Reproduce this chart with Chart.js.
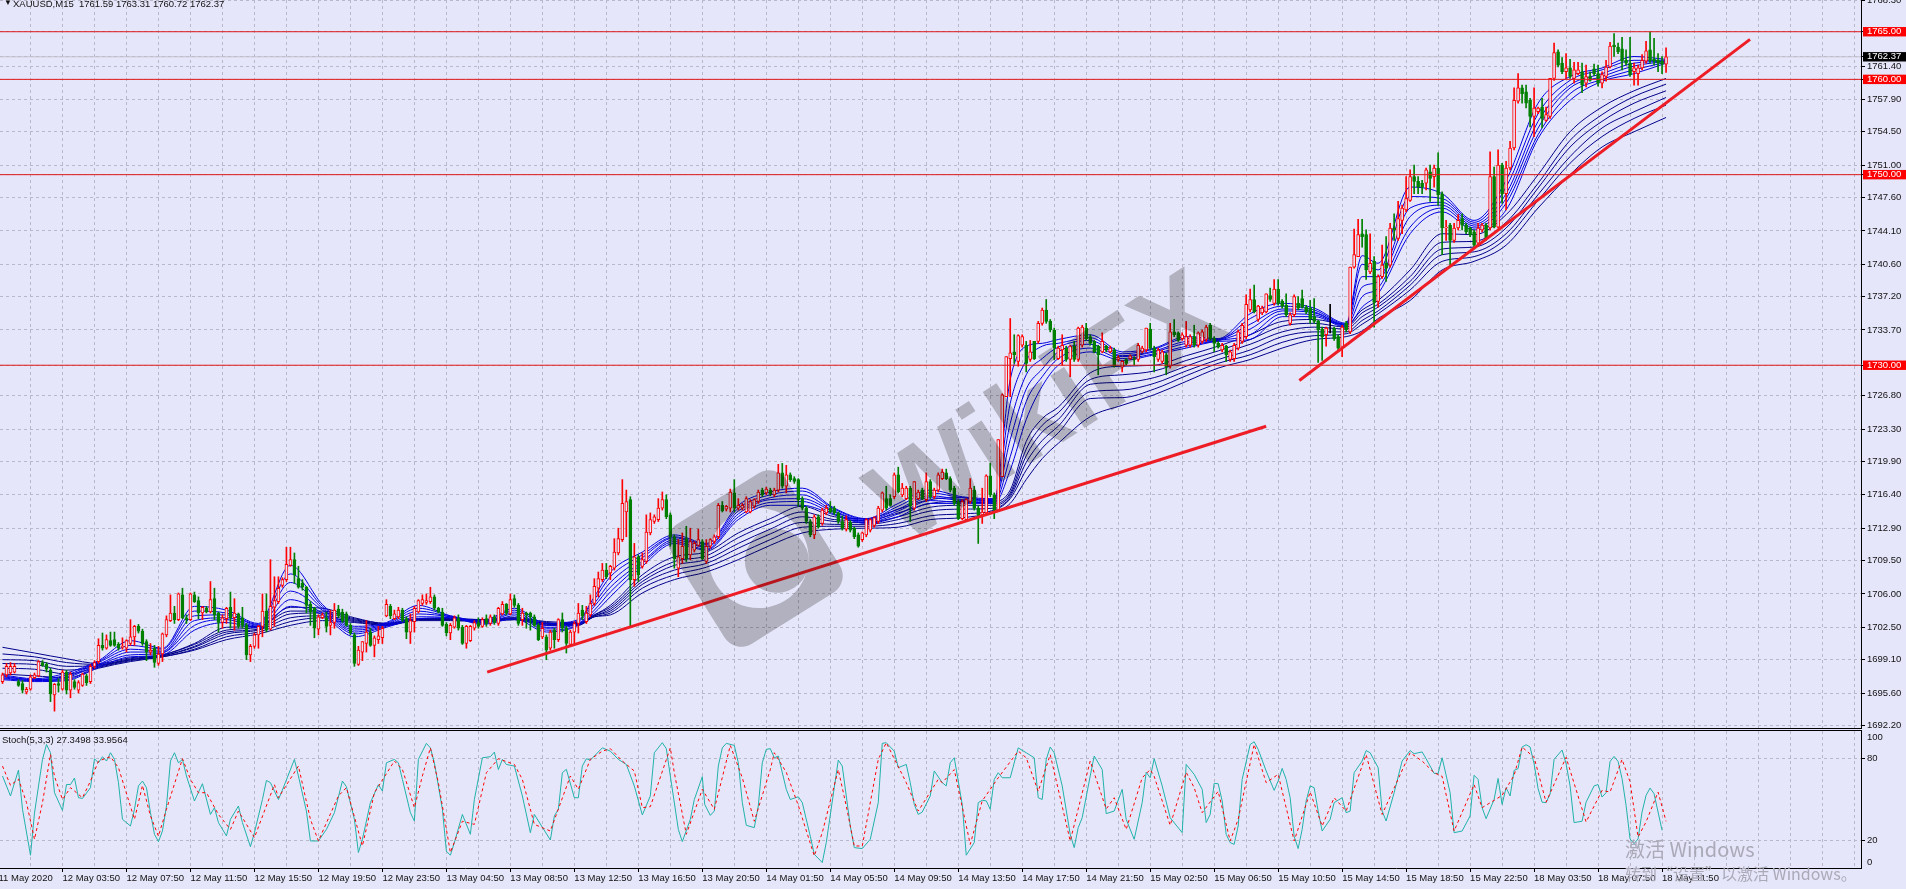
<!DOCTYPE html>
<html>
<head>
<meta charset="utf-8">
<title>XAUUSD,M15</title>
<script src="https://cdn.jsdelivr.net/npm/chart.js@4"></script>
<style>
  html, body { margin: 0; padding: 0; background: #e6e6fa; overflow: hidden; }
  #wrap { position: relative; width: 1906px; height: 889px; overflow: hidden; font-family: 'Liberation Sans', sans-serif; }
  canvas { position: absolute; left: 0; }
  #main { top: 0; }
  #stoch { top: 731px; }
  .sep { position: absolute; left: 0; width: 1862px; height: 1px; background: #000; }
  .txt { position: absolute; color: #111; font-size: 9.5px; white-space: pre; }
  #mark { position: absolute; left: 0; top: 0; mix-blend-mode: multiply; }
  .win { position: absolute; color: #a9a9b8; font-family: 'Noto Sans CJK SC', sans-serif; white-space: pre; }
</style>
</head>
<body>
<div id="wrap">
  <canvas id="main" width="1906" height="728"></canvas>
  <div class="sep" style="top:728px"></div>
  <div class="sep" style="top:730px"></div>
  <canvas id="stoch" width="1906" height="158"></canvas>
  <svg id="mark" width="1906" height="728">
    <g transform="rotate(-32 755 558)">
      <rect x="687" y="488" width="136" height="141" rx="20" fill="#c4c4c4"></rect>
      <circle cx="758" cy="560" r="50" fill="#fff"></circle>
      <circle cx="772" cy="572" r="32" fill="#c4c4c4"></circle>
    </g>
    <text x="1048" y="445" text-anchor="middle" transform="rotate(-33 1048 410)" fill="#c4c4c4" font-family="Liberation Sans" font-weight="bold" font-size="118">WikiFX</text>
  </svg>
  <div class="txt" style="left:4px;top:-2px;font-size:8px">▼</div>
  <div class="txt" style="left:13px;top:-2px">XAUUSD,M15  1761.59 1763.31 1760.72 1762.37</div>
  <div class="txt" style="left:2px;top:734px">Stoch(5,3,3) 27.3498 33.9564</div>
  <div class="win" style="left:1625px;top:836px;font-size:20px;line-height:26px">激活 Windows</div>
  <div class="win" style="left:1625px;top:862px;font-size:16px;line-height:22px">转到“设置”以激活 Windows。</div>
</div>
<script>
// candles, M15 (one entry per bar)
const opens = [
1696.8,1697.5,1697.7,1697.8,1696.8,1696.6,1695.7,1696.0,1697.2,1697.4,
1698.8,1698.6,1698.0,1695.4,1696.6,1696.0,1697.8,1695.9,1696.8,1695.9,
1696.4,1697.4,1696.8,1698.4,1698.9,1700.6,1700.3,1701.1,1701.2,1700.7,
1700.4,1700.3,1700.8,1701.5,1702.6,1702.1,1701.0,1699.9,1700.3,1698.7,
1699.7,1701.7,1703.2,1704.0,1703.3,1705.9,1703.5,1703.3,1705.9,1705.3,
1704.0,1704.5,1704.1,1705.5,1704.0,1703.0,1703.4,1704.6,1703.5,1703.9,
1703.5,1702.7,1699.6,1700.5,1701.7,1702.6,1704.2,1702.3,1704.6,1705.2,
1706.9,1707.5,1709.0,1709.6,1707.6,1707.1,1706.7,1704.9,1704.5,1702.3,
1703.5,1703.5,1702.7,1703.0,1704.4,1704.1,1703.9,1702.7,1701.7,1698.6,
1699.9,1700.8,1702.0,1700.6,1701.2,1701.4,1703.7,1704.7,1703.4,1703.6,
1704.3,1703.4,1702.0,1703.1,1704.1,1705.0,1705.1,1705.2,1705.7,1704.5,
1704.1,1702.8,1701.9,1702.5,1703.4,1702.5,1700.8,1701.1,1702.4,1703.0,
1702.6,1703.4,1702.9,1703.6,1702.9,1703.9,1704.9,1703.9,1705.5,1704.8,
1703.3,1704.0,1704.0,1703.6,1702.7,1701.5,1701.5,1700.3,1702.2,1701.2,
1703.3,1702.4,1700.7,1702.0,1702.9,1704.3,1703.1,1703.8,1705.0,1706.6,
1707.5,1708.5,1708.2,1708.7,1710.3,1711.7,1714.6,1715.9,1707.5,1709.9,
1708.9,1709.4,1712.4,1713.6,1713.8,1715.0,1715.9,1714.3,1712.0,1708.7,
1709.7,1711.8,1710.1,1710.6,1711.1,1711.5,1709.4,1711.0,1711.5,1712.0,
1715.3,1714.9,1715.0,1716.6,1715.0,1715.0,1714.6,1714.6,1715.2,1715.7,
1716.9,1716.6,1716.9,1716.4,1716.9,1718.7,1717.3,1718.5,1718.1,1718.0,
1716.0,1715.0,1713.6,1712.2,1714.1,1713.4,1714.5,1715.0,1715.0,1714.5,
1713.6,1712.8,1713.5,1712.9,1712.2,1711.7,1712.2,1712.7,1713.2,1713.6,
1714.8,1716.0,1716.0,1716.2,1718.5,1716.4,1716.0,1717.1,1715.0,1716.0,
1716.9,1715.9,1717.8,1716.2,1716.9,1718.1,1718.7,1718.1,1717.1,1715.7,
1713.9,1713.8,1715.7,1716.9,1715.0,1714.3,1714.5,1718.4,1716.4,1714.8,
1718.3,1726.7,1730.7,1731.4,1730.4,1732.1,1732.1,1730.6,1732.5,1732.5,
1734.4,1735.8,1734.6,1733.7,1730.7,1731.6,1731.8,1730.6,1732.0,1730.6,
1732.1,1733.9,1733.0,1732.5,1732.0,1731.4,1732.0,1731.4,1731.6,1730.6,
1729.8,1730.6,1730.7,1730.7,1730.6,1731.4,1731.6,1733.8,1731.8,1730.6,
1730.4,1731.1,1729.9,1733.5,1733.4,1732.8,1732.1,1732.1,1733.0,1732.1,
1732.5,1732.7,1734.2,1732.8,1732.3,1731.6,1732.0,1730.6,1730.7,1731.8,
1732.5,1733.0,1735.8,1736.9,1734.8,1735.5,1735.6,1737.3,1736.5,1738.0,
1736.7,1736.3,1734.4,1735.3,1736.5,1737.0,1736.1,1736.0,1735.1,1734.6,
1733.8,1733.2,1734.4,1733.9,1733.0,1731.9,1734.4,1733.5,1740.3,1741.4,
1743.8,1743.7,1739.8,1740.9,1736.7,1739.3,1740.7,1740.5,1744.4,1743.3,
1745.2,1746.3,1747.3,1749.8,1749.3,1749.1,1749.1,1750.3,1749.8,1750.7,
1748.0,1744.4,1744.7,1743.1,1744.4,1745.4,1744.7,1744.4,1744.0,1742.8,
1744.2,1744.7,1744.4,1749.8,1744.5,1751.0,1748.0,1750.7,1752.8,1757.7,
1759.1,1758.7,1757.8,1756.1,1756.6,1757.1,1755.7,1756.1,1760.1,1762.9,
1761.7,1760.8,1761.2,1760.1,1760.6,1760.8,1759.6,1760.3,1761.1,1760.6,
1759.6,1760.3,1761.3,1763.6,1763.4,1763.2,1762.0,1761.7,1760.8,1760.6,
1761.2,1761.9,1763.1,1762.1,1762.0,1761.9,1761.59
];
const closes = [
1697.5,1698.4,1698.4,1698.4,1696.4,1695.9,1696.0,1697.3,1697.5,1698.9,
1698.5,1698.1,1695.5,1696.5,1696.4,1697.8,1695.9,1697.6,1696.2,1696.7,
1697.6,1696.7,1698.4,1698.8,1700.6,1700.3,1701.2,1700.6,1700.6,1700.3,
1700.5,1701.1,1701.5,1702.6,1702.1,1700.8,1699.9,1700.1,1698.8,1699.7,
1701.8,1703.3,1704.0,1703.3,1706.0,1703.5,1703.3,1706.0,1705.2,1704.0,
1704.6,1704.1,1705.4,1703.8,1703.0,1703.5,1704.5,1703.5,1704.0,1702.6,
1702.7,1699.6,1700.5,1701.7,1702.6,1704.2,1702.2,1704.7,1705.3,1706.6,
1707.5,1709.1,1709.6,1708.0,1706.7,1706.7,1704.8,1704.1,1702.4,1703.6,
1703.8,1702.6,1703.0,1704.3,1703.7,1703.2,1702.7,1701.9,1698.7,1700.1,
1701.0,1702.0,1700.6,1701.4,1701.6,1702.4,1704.9,1703.7,1703.9,1704.3,
1703.3,1702.0,1703.2,1704.5,1705.3,1705.4,1705.3,1705.7,1704.5,1704.1,
1702.7,1701.9,1702.7,1703.5,1702.4,1700.8,1702.6,1702.6,1703.0,1702.6,
1703.3,1702.9,1703.6,1703.0,1704.5,1704.9,1704.0,1705.4,1704.8,1702.9,
1704.0,1703.8,1703.6,1702.7,1701.2,1702.4,1700.1,1702.0,1701.2,1703.3,
1702.4,1700.8,1702.0,1702.9,1704.0,1703.7,1704.0,1705.0,1706.8,1707.6,
1708.5,1707.8,1708.9,1710.4,1711.8,1715.5,1715.7,1707.5,1709.9,1708.0,
1709.6,1712.5,1713.8,1714.1,1715.0,1715.9,1714.1,1712.0,1709.7,1709.9,
1711.0,1709.7,1711.5,1711.3,1711.7,1709.7,1711.0,1711.7,1712.0,1715.3,
1714.7,1715.2,1716.7,1715.0,1715.3,1715.3,1716.0,1715.7,1715.9,1716.7,
1716.4,1717.0,1716.5,1716.9,1718.7,1717.3,1718.5,1718.0,1717.8,1715.9,
1715.0,1713.6,1712.2,1714.1,1713.0,1714.8,1715.0,1714.6,1714.5,1713.6,
1712.9,1713.8,1712.7,1712.0,1711.0,1712.4,1713.8,1713.8,1714.0,1715.0,
1716.6,1715.0,1715.3,1718.5,1716.7,1717.1,1717.1,1715.2,1717.8,1716.7,
1716.0,1717.8,1716.2,1716.9,1718.5,1718.8,1718.1,1716.9,1715.5,1713.9,
1715.7,1715.9,1717.1,1715.0,1714.3,1714.6,1718.4,1716.4,1714.8,1722.2,
1726.9,1730.9,1731.3,1731.1,1733.1,1733.0,1730.2,1731.4,1730.7,1734.4,
1735.8,1734.6,1733.7,1731.8,1731.8,1732.1,1730.6,1732.0,1730.6,1733.9,
1734.0,1732.8,1732.3,1731.4,1731.1,1732.5,1731.6,1731.8,1729.9,1730.8,
1730.4,1730.2,1731.0,1730.6,1732.1,1731.8,1733.9,1731.8,1730.9,1731.6,
1731.4,1729.8,1733.5,1733.2,1732.6,1733.2,1733.0,1733.0,1732.1,1733.4,
1733.5,1734.0,1732.8,1732.3,1731.9,1732.1,1731.1,1731.4,1732.1,1733.5,
1734.2,1736.4,1736.9,1735.6,1736.2,1736.0,1737.5,1736.9,1738.0,1736.5,
1736.2,1735.3,1735.3,1737.2,1736.0,1736.1,1735.6,1734.9,1734.6,1733.7,
1733.0,1733.9,1734.4,1732.8,1731.8,1734.0,1733.7,1740.3,1741.6,1743.7,
1743.5,1740.0,1740.7,1736.6,1739.3,1740.5,1740.2,1744.4,1744.2,1745.4,
1746.5,1747.5,1749.8,1749.3,1748.7,1748.7,1750.5,1749.6,1750.7,1747.9,
1744.4,1744.5,1743.1,1744.4,1745.2,1744.7,1744.0,1743.7,1742.6,1744.4,
1744.7,1743.3,1749.8,1744.5,1751.0,1748.0,1750.7,1752.8,1757.8,1759.1,
1758.5,1757.5,1756.1,1757.0,1757.0,1755.9,1756.3,1760.1,1762.8,1761.5,
1760.8,1761.2,1760.3,1761.0,1761.0,1759.4,1760.3,1759.9,1760.6,1759.6,
1760.5,1761.3,1763.5,1763.4,1762.9,1761.9,1761.7,1760.5,1761.2,1761.2,
1762.0,1763.0,1762.0,1761.9,1761.7,1761.6,1762.37
];
const highs = [
1697.7,1698.7,1698.8,1698.7,1697.0,1696.9,1696.2,1697.5,1697.7,1699.0,
1699.0,1698.8,1698.2,1696.6,1697.1,1698.0,1698.0,1697.8,1697.0,1696.9,
1697.7,1697.6,1698.6,1699.0,1701.3,1701.9,1701.7,1702.0,1702.0,1700.9,
1701.4,1701.2,1703.3,1702.7,1702.8,1702.3,1701.2,1700.8,1700.6,1700.5,
1701.9,1703.7,1705.9,1704.7,1706.1,1706.6,1703.8,1706.1,1706.2,1705.7,
1704.7,1704.7,1707.3,1706.6,1704.1,1703.8,1704.6,1706.2,1705.5,1704.0,
1704.6,1702.9,1700.7,1701.9,1702.7,1706.0,1706.0,1709.6,1707.8,1707.8,
1707.7,1710.9,1710.9,1710.3,1708.9,1707.5,1706.8,1705.2,1704.6,1703.8,
1704.0,1704.1,1704.3,1705.0,1704.8,1704.4,1704.1,1702.9,1701.9,1700.5,
1701.0,1703.2,1702.4,1701.6,1702.6,1702.6,1705.4,1704.9,1704.3,1704.6,
1704.5,1703.6,1703.9,1704.7,1705.4,1705.9,1706.0,1706.7,1705.9,1704.6,
1704.5,1703.0,1702.9,1703.7,1703.8,1702.7,1702.7,1702.7,1703.2,1703.5,
1703.5,1703.8,1703.8,1703.8,1704.6,1705.2,1705.0,1706.0,1705.9,1705.0,
1704.5,1704.1,1704.1,1703.8,1702.9,1703.0,1701.7,1702.2,1702.4,1703.4,
1704.0,1702.6,1702.2,1703.1,1705.0,1704.8,1704.7,1705.9,1707.6,1708.3,
1709.2,1709.2,1709.0,1711.8,1712.9,1718.0,1716.9,1716.2,1711.3,1710.1,
1710.3,1714.3,1714.5,1714.3,1716.0,1716.7,1716.4,1714.5,1712.2,1711.7,
1712.4,1713.1,1712.9,1711.5,1712.8,1711.7,1711.7,1711.8,1712.2,1715.5,
1715.7,1715.3,1717.0,1718.0,1716.0,1715.5,1716.2,1715.9,1716.0,1716.9,
1717.1,1717.2,1717.1,1717.1,1719.6,1719.7,1719.5,1718.7,1718.3,1718.1,
1716.2,1715.2,1713.8,1714.3,1714.3,1715.0,1715.3,1715.7,1715.2,1714.6,
1714.2,1714.2,1713.7,1713.0,1712.4,1712.5,1713.9,1713.9,1714.1,1715.2,
1716.7,1717.3,1716.4,1718.7,1719.3,1717.6,1717.3,1717.3,1717.8,1716.9,
1717.1,1718.7,1718.0,1717.1,1718.7,1719.1,1719.1,1718.3,1717.3,1715.9,
1715.9,1716.0,1718.1,1717.3,1715.2,1717.1,1718.5,1719.7,1716.6,1722.2,
1727.0,1730.9,1734.9,1733.2,1733.2,1733.2,1732.5,1732.6,1732.5,1734.6,
1736.0,1736.9,1734.8,1733.9,1732.0,1733.2,1732.0,1732.1,1732.5,1734.0,
1734.2,1734.4,1733.2,1732.6,1732.1,1733.4,1732.1,1732.0,1731.8,1731.0,
1730.5,1730.7,1731.1,1730.9,1732.3,1732.0,1733.9,1734.4,1732.0,1731.8,
1731.6,1731.3,1734.4,1734.8,1733.5,1733.4,1734.6,1733.2,1734.2,1733.5,
1733.7,1734.2,1734.4,1733.0,1732.5,1732.3,1732.1,1731.6,1732.3,1733.7,
1734.4,1737.4,1738.0,1738.4,1736.3,1736.2,1737.5,1738.1,1739.0,1739.0,
1736.9,1737.5,1735.5,1737.4,1737.2,1737.9,1736.3,1736.8,1737.0,1734.7,
1734.0,1734.0,1736.4,1734.0,1733.2,1734.2,1734.6,1740.3,1744.3,1745.3,
1745.3,1744.2,1743.8,1741.4,1739.5,1742.6,1743.5,1744.9,1745.9,1747.2,
1746.8,1749.8,1750.5,1751.0,1749.8,1749.4,1750.7,1751.0,1751.0,1752.3,
1748.2,1745.2,1744.9,1744.9,1745.8,1745.9,1744.9,1744.5,1744.2,1744.9,
1744.9,1744.9,1752.4,1750.8,1752.6,1751.2,1751.4,1753.5,1759.1,1760.6,
1759.4,1759.4,1758.0,1759.1,1757.1,1758.0,1757.1,1760.1,1763.8,1763.1,
1762.3,1762.7,1762.1,1761.8,1761.8,1761.7,1761.5,1760.8,1761.6,1761.5,
1760.8,1762.0,1763.9,1764.8,1763.8,1764.4,1763.1,1764.4,1761.7,1761.5,
1762.6,1764.0,1765.0,1764.3,1762.7,1762.4,1763.31
];
const lows = [
1696.6,1697.3,1697.5,1697.7,1696.3,1695.6,1695.5,1695.9,1697.1,1697.3,
1698.4,1697.8,1694.7,1693.7,1695.7,1695.9,1695.5,1695.1,1696.0,1695.6,
1696.3,1696.4,1696.6,1698.2,1698.7,1700.1,1700.2,1700.5,1700.5,1700.1,
1700.2,1699.9,1700.6,1700.6,1701.9,1700.6,1699.0,1699.6,1698.3,1698.5,
1698.9,1701.5,1703.1,1702.9,1703.2,1703.4,1702.9,1703.2,1705.1,1703.4,
1703.3,1704.0,1704.0,1703.3,1702.0,1702.4,1702.9,1702.4,1702.2,1702.4,
1702.4,1699.1,1698.9,1700.3,1700.3,1701.5,1702.0,1702.2,1702.6,1705.0,
1706.7,1707.3,1708.9,1707.1,1706.6,1706.4,1704.0,1702.7,1701.4,1701.7,
1703.4,1702.0,1701.7,1702.4,1703.5,1703.0,1702.6,1701.7,1698.4,1698.5,
1699.0,1699.9,1700.5,1699.4,1700.8,1700.8,1703.6,1703.4,1703.3,1703.4,
1703.1,1701.3,1700.8,1702.0,1704.0,1704.8,1704.9,1705.0,1704.3,1704.0,
1702.6,1701.6,1701.2,1702.4,1702.2,1700.7,1700.3,1701.0,1702.2,1702.4,
1702.5,1702.6,1702.7,1702.8,1702.7,1703.8,1703.8,1703.8,1704.6,1702.7,
1702.7,1702.4,1702.2,1702.6,1701.1,1701.3,1699.1,1700.1,1700.3,1701.0,
1702.0,1699.8,1700.6,1700.8,1701.9,1703.3,1702.9,1703.6,1704.8,1705.7,
1707.3,1707.6,1707.5,1708.5,1710.1,1711.5,1712.0,1702.6,1706.8,1707.3,
1708.7,1709.2,1712.2,1713.4,1713.6,1714.8,1713.9,1711.0,1708.7,1707.8,
1709.2,1709.4,1709.6,1710.4,1711.0,1709.6,1709.2,1710.8,1711.3,1711.8,
1714.6,1714.7,1714.6,1714.6,1714.8,1714.8,1714.5,1714.5,1715.0,1715.5,
1716.2,1716.4,1716.3,1716.2,1716.7,1717.1,1716.6,1717.8,1717.6,1715.2,
1714.8,1713.4,1712.0,1711.8,1712.9,1713.2,1714.3,1714.5,1714.3,1713.4,
1712.7,1712.6,1712.5,1711.8,1710.9,1711.5,1712.0,1712.5,1713.0,1713.4,
1714.6,1714.8,1715.2,1716.0,1716.6,1716.2,1715.9,1713.6,1714.8,1715.9,
1715.9,1715.7,1716.0,1716.0,1716.7,1718.0,1718.0,1716.7,1715.3,1713.8,
1713.8,1713.6,1715.5,1714.8,1711.3,1713.4,1714.3,1716.2,1713.9,1714.8,
1718.3,1726.7,1726.7,1730.2,1729.9,1731.9,1729.3,1730.4,1730.6,1732.3,
1734.2,1734.4,1733.5,1730.6,1730.6,1730.0,1730.4,1728.8,1730.4,1730.4,
1731.9,1732.6,1732.1,1731.3,1729.0,1731.3,1731.4,1731.3,1729.8,1730.4,
1729.3,1730.0,1730.6,1730.0,1730.4,1731.3,1731.4,1731.6,1729.3,1730.4,
1730.2,1729.0,1729.7,1733.0,1732.5,1732.6,1731.9,1731.9,1731.9,1731.9,
1732.3,1732.5,1732.6,1731.4,1731.8,1731.4,1730.4,1730.4,1730.4,1731.6,
1732.3,1732.8,1735.6,1735.5,1734.6,1735.3,1735.5,1736.7,1736.3,1736.3,
1736.0,1735.1,1734.2,1735.1,1735.8,1736.0,1735.4,1734.4,1734.4,1730.3,
1730.5,1732.0,1733.4,1732.6,1731.6,1730.9,1733.5,1733.3,1740.2,1741.4,
1742.4,1739.0,1739.6,1734.0,1736.1,1739.1,1738.8,1740.3,1743.1,1743.1,
1743.8,1746.1,1747.2,1748.0,1748.0,1748.0,1748.4,1747.2,1748.7,1746.8,
1741.6,1743.1,1740.5,1742.9,1744.2,1744.2,1743.8,1743.5,1742.4,1742.6,
1744.0,1743.1,1744.2,1744.4,1744.4,1747.0,1746.3,1750.5,1752.6,1757.5,
1757.5,1757.0,1755.0,1754.0,1756.4,1754.9,1755.6,1755.9,1759.9,1761.3,
1760.6,1760.1,1760.1,1759.6,1760.5,1758.6,1759.2,1759.8,1760.4,1759.3,
1759.1,1759.8,1761.2,1762.4,1762.7,1761.0,1761.5,1760.3,1759.4,1759.4,
1761.0,1761.7,1761.7,1761.5,1760.8,1760.6,1760.72
];

// moving average ribbon, top line to bottom line of each group
const maBars = [0,8,16,24,32,40,48,56,64,72,80,88,96,104,112,120,128,136,144,148,152,160,168,176,184,192,200,208,216,224,232,240,248,252,256,260,264,272,280,288,296,304,312,320,328,336,340,344,352,360,368,376,384,392,400,408,416];
const short1 = [1697.5,1697.1,1697.7,1699.0,1701.1,1700.3,1704.7,1704.3,1702.9,1709.0,1704.9,1702.6,1703.0,1704.8,1703.7,1703.2,1704.5,1702.9,1703.3,1705.7,1708.3,1710.4,1712.2,1711.3,1715.3,1716.7,1717.1,1715.0,1713.9,1715.5,1716.9,1716.2,1716.0,1728.5,1732.0,1732.3,1732.7,1733.2,1731.4,1731.8,1733.0,1732.8,1735.4,1736.5,1736.0,1734.4,1741.5,1740.7,1748.7,1748.0,1745.2,1749.4,1757.5,1760.3,1761.2,1762.4,1762.1];
const short2 = [1697.4,1697.0,1697.5,1698.9,1700.6,1700.2,1704.2,1704.0,1702.8,1708.1,1704.7,1702.4,1702.9,1704.5,1703.7,1703.1,1704.3,1702.7,1703.2,1705.4,1707.8,1710.1,1712.0,1711.2,1715.0,1716.4,1716.8,1714.9,1713.8,1715.2,1716.6,1716.1,1715.9,1726.0,1730.5,1732.0,1732.3,1732.9,1731.2,1731.7,1732.8,1732.7,1734.9,1736.2,1735.8,1734.3,1740.6,1740.0,1747.7,1747.5,1745.0,1748.7,1756.4,1759.9,1761.0,1762.0,1762.0];
const short3 = [1697.3,1697.0,1697.3,1698.8,1700.2,1700.0,1703.7,1703.8,1702.7,1707.2,1704.5,1702.2,1702.8,1704.2,1703.6,1703.0,1704.1,1702.5,1703.1,1705.0,1707.2,1709.8,1711.9,1711.0,1714.7,1716.1,1716.4,1714.7,1713.7,1714.9,1716.3,1715.9,1715.8,1723.9,1729.0,1730.7,1731.9,1732.6,1731.0,1731.5,1732.5,1732.7,1734.3,1735.9,1735.6,1734.2,1739.3,1739.3,1746.5,1747.1,1744.8,1748.0,1755.6,1759.4,1760.6,1761.7,1761.9];
const short4 = [1697.2,1696.9,1697.2,1698.6,1699.9,1699.9,1703.2,1703.5,1702.6,1706.3,1704.3,1702.0,1702.7,1703.9,1703.6,1703.0,1703.9,1702.4,1702.9,1704.7,1706.7,1709.4,1711.7,1710.9,1714.4,1715.9,1716.0,1714.6,1713.6,1714.7,1716.1,1715.8,1715.7,1722.2,1727.5,1729.6,1731.4,1732.2,1730.9,1731.4,1732.3,1732.6,1733.8,1735.7,1735.5,1734.2,1738.2,1738.8,1745.6,1746.8,1744.6,1747.5,1754.9,1759.1,1760.3,1761.4,1761.9];
const short5 = [1697.1,1696.9,1697.0,1698.5,1699.6,1699.8,1702.7,1703.3,1702.5,1705.4,1704.0,1701.8,1702.6,1703.6,1703.5,1702.9,1703.7,1702.2,1702.8,1704.3,1706.2,1709.2,1711.5,1710.7,1714.1,1715.6,1715.7,1714.4,1713.5,1714.4,1715.8,1715.6,1715.6,1720.4,1726.2,1728.8,1730.7,1731.8,1730.7,1731.2,1732.0,1732.6,1733.2,1735.4,1735.3,1734.1,1737.2,1738.1,1744.5,1746.5,1744.4,1747.0,1754.2,1758.5,1760.0,1761.0,1761.8];
const short6 = [1697.0,1696.8,1696.9,1698.3,1699.4,1699.6,1702.2,1703.0,1702.4,1704.7,1703.8,1701.5,1702.5,1703.4,1703.5,1702.8,1703.4,1702.0,1702.7,1704.0,1705.7,1708.9,1711.3,1710.6,1713.8,1715.3,1715.3,1714.3,1713.4,1714.1,1715.5,1715.5,1715.5,1719.0,1724.3,1727.8,1730.0,1731.4,1730.5,1731.1,1731.8,1732.5,1732.7,1735.1,1735.1,1734.0,1736.1,1737.5,1743.8,1746.1,1744.2,1746.3,1753.8,1757.8,1759.8,1760.6,1761.7];
const long1 = [1700.4,1699.8,1699.2,1698.7,1699.3,1699.6,1700.8,1702.5,1702.6,1704.6,1704.5,1703.5,1702.9,1703.4,1703.4,1703.3,1703.5,1703.1,1703.0,1703.8,1704.8,1708.0,1709.9,1710.4,1712.4,1713.9,1715.2,1714.1,1713.9,1714.9,1715.9,1716.1,1715.7,1716.9,1722.0,1724.4,1725.6,1729.2,1729.9,1730.0,1731.0,1732.0,1733.2,1734.6,1734.8,1734.3,1735.8,1736.8,1740.0,1743.8,1743.7,1745.8,1750.0,1754.5,1757.1,1758.8,1760.1];
const long2 = [1699.7,1699.4,1698.8,1698.6,1699.2,1699.6,1700.7,1702.2,1702.5,1704.2,1704.2,1703.4,1702.9,1703.4,1703.4,1703.3,1703.5,1703.0,1702.9,1703.8,1704.6,1707.6,1709.4,1710.0,1711.9,1713.4,1714.6,1713.8,1713.7,1714.5,1715.5,1715.7,1715.5,1716.6,1721.2,1723.7,1725.0,1728.5,1729.0,1729.4,1730.5,1731.5,1732.7,1734.1,1734.4,1734.0,1735.5,1736.4,1739.3,1742.9,1743.0,1745.0,1749.1,1753.6,1756.3,1758.2,1759.5];
const long3 = [1699.1,1699.0,1698.4,1698.5,1699.1,1699.5,1700.5,1702.0,1702.3,1703.9,1704.0,1703.3,1702.8,1703.3,1703.3,1703.2,1703.4,1702.9,1702.9,1703.7,1704.4,1707.3,1709.0,1709.6,1711.3,1712.8,1714.1,1713.6,1713.5,1714.1,1715.1,1715.3,1715.3,1716.4,1720.5,1723.0,1724.3,1728.0,1728.2,1728.7,1729.9,1731.1,1732.2,1733.5,1734.0,1733.8,1735.1,1736.1,1738.8,1742.2,1742.4,1744.4,1748.6,1752.9,1755.6,1757.5,1758.8];
const long4 = [1698.7,1698.6,1698.0,1698.4,1699.1,1699.5,1700.4,1701.8,1702.2,1703.5,1703.7,1703.2,1702.8,1703.3,1703.3,1703.2,1703.4,1702.9,1702.8,1703.7,1704.2,1707.0,1708.5,1709.2,1710.8,1712.3,1713.5,1713.3,1713.3,1713.8,1714.7,1714.9,1715.0,1716.2,1719.8,1722.1,1723.6,1727.2,1727.4,1728.1,1729.4,1730.6,1731.6,1733.0,1733.5,1733.5,1734.7,1735.7,1738.4,1741.6,1741.9,1743.8,1747.9,1751.9,1754.9,1756.6,1758.1];
const long5 = [1698.2,1698.1,1697.6,1698.3,1699.0,1699.4,1700.2,1701.5,1702.0,1703.1,1703.5,1703.1,1702.7,1703.3,1703.3,1703.1,1703.3,1702.8,1702.8,1703.6,1704.0,1706.6,1708.0,1708.8,1710.2,1711.7,1713.0,1713.1,1713.1,1713.4,1714.2,1714.4,1714.8,1716.0,1719.0,1721.3,1722.9,1726.5,1726.6,1727.5,1728.9,1730.2,1731.1,1732.4,1733.1,1733.3,1734.3,1735.4,1737.9,1740.9,1741.4,1743.3,1747.3,1751.2,1754.0,1755.9,1757.3];
const long6 = [1697.6,1697.4,1697.2,1698.2,1698.9,1699.4,1700.1,1701.2,1701.8,1702.7,1703.2,1703.0,1702.7,1703.2,1703.2,1703.1,1703.3,1702.7,1702.7,1703.6,1703.8,1706.1,1707.5,1708.3,1709.6,1711.1,1712.4,1712.8,1712.9,1713.0,1713.8,1714.0,1714.6,1715.5,1718.0,1720.2,1721.8,1724.6,1725.8,1726.9,1728.3,1729.7,1730.6,1731.8,1732.7,1733.0,1733.6,1734.9,1736.8,1740.0,1740.9,1742.6,1746.5,1750.0,1752.9,1754.5,1756.0];

// horizontal levels and the two drawn trend lines
const levels = [1765, 1760, 1750, 1730];
const lastPrice = 1762.37;
const trendA = { bars: [121.2, 316], prices: [1697.8, 1723.6] };
const trendB = { bars: [324.3, 437], prices: [1728.4, 1764.2] };

// axis labels
const priceTicks = [1768.30,1765,1762.37,1761.40,1760,1757.90,1754.50,1751.00,1750,1747.60,1744.10,1740.60,1737.20,1733.70,1730,1726.80,1723.30,1719.90,1716.40,1712.90,1709.50,1706.00,1702.50,1699.10,1695.60,1692.20];
const timeLabels = ['11 May 2020','12 May 03:50','12 May 07:50','12 May 11:50','12 May 15:50','12 May 19:50','12 May 23:50','13 May 04:50','13 May 08:50','13 May 12:50','13 May 16:50','13 May 20:50','14 May 01:50','14 May 05:50','14 May 09:50','14 May 13:50','14 May 17:50','14 May 21:50','15 May 02:50','15 May 06:50','15 May 10:50','15 May 14:50','15 May 18:50','15 May 22:50','18 May 03:50','18 May 07:50','18 May 11:50'];

// stochastic, turning points only
const kBars = [0,2,4,5,7,8,10,11,12,13,15,16,17,18,19,20,22,23,24,25,26,27,28,29,30,32,33,34,35,36,37,38,39,40,41,42,43,44,45,46,48,50,52,53,54,56,57,59,60,62,63,65,66,67,69,70,73,74,76,77,79,81,83,85,86,88,89,90,92,94,95,96,98,99,100,102,103,104,106,107,108,110,111,112,113,115,117,118,120,122,123,124,125,126,128,130,132,133,137,138,139,140,141,143,144,145,146,147,150,152,154,156,158,160,162,163,165,166,167,169,170,172,173,175,175.6,177,178,179,180,181,183,184,185,186,188,189,190,191,192,193,194,196,197,199,200,202,203,205,206,208,209,210,212,213,215,217,219,220,221,223,224,226,227,228,229,230,232,233,235,236,237,238,240,241,243,244,245,246,247,248,249,250,252,254,256,258,259,260,261,262,263,265,267,268,269,270,272,273,275,276,278,280,281,283,285,286,287,288,290,292,295,296,298,300,301,302,303,304,305,306,307,308,309,310,312,313,314,316,318,319,320,321,322,323,324,325,326,327,328,329,330,332,333,335,336,337,338,340,341,342,344,345,346,348,350,352,353,355,356,358,359,360,362,363,365,367,368,369,370,371,373,374,375,376,377,378,379,380,381,382,383,384,385,386,387,388,390,391,392,393,395,396,398,399,400,401,402,403,404,405,406,407,408,409,410,411,412,413,414,415,416];
const kVals = [67.3,52.6,71.7,42.8,9,40,79.5,90.5,84.4,55,42,61,61,65.8,51.3,50.8,58.7,80,77,81.5,78.3,84.4,79.5,62.4,35.4,30.5,42.8,60,63.6,58.7,40.3,24.4,19,26.8,45.2,78.3,84.4,77,79.5,67.3,48.9,61.6,39,44,33,23.2,35.4,45.2,33,15.3,25.6,50,64,62.4,50,57,79.5,67.3,41.5,19.5,19.5,28,40.3,63.6,59.4,35.4,11,20.7,47.7,60.9,56.2,77,79.5,77,64.8,40.3,34.2,79.5,91.3,88,77,42.8,12,9,18.3,39,24.4,50,80.7,81.5,84.9,72,79.5,75.8,74.6,52.6,25.6,39,20.2,37.9,42.8,69.7,72.2,51.3,51.3,74.6,80,79,88,85.6,79.5,75.8,59.9,38.6,52.6,84.4,91.8,87.4,67.3,28,19,35.4,50,66.8,46.4,38.3,41.5,74.6,88,91.3,89.8,77,47.7,31,29.3,45.2,77,86.9,87.4,80.7,82,57.5,50,52,47.7,23,9.7,3.6,18.3,58.7,79,74.6,30.5,14.6,13.9,20.7,47.7,91.3,91.8,85.6,73.4,75.8,62.4,46.4,39,40.8,52.6,71,62.4,60,77,80.7,46.4,9,18.3,47.7,49.4,49,42.8,64.8,69.7,66,66,88,84.4,80.7,51.3,50,79.5,88.6,84.4,60,24.4,14.6,29.3,36.6,67.3,82,72,39.6,41.5,57.5,35.4,20.7,47.7,70,66,80,60,36.6,25.6,75.8,68.5,57.5,33,39,61.9,61.6,49,24.4,18.3,17,30.5,64.8,90.5,92.5,86.9,71,56.7,63.6,72.9,64.8,51.3,23,13.9,28,48.9,60,58.7,41.5,26.8,35.4,47.7,51.3,40.3,41.5,69.7,78.3,86,84.4,73.4,41.5,34.2,55,78.3,86,83.7,85,80,69.2,69.2,80.7,55,25.6,26.8,37.9,67.8,64.8,44,35.9,50,65.5,46.4,58.7,52.6,71.4,72.7,88.6,90.3,88.6,76.3,58,48,47.7,54,79.5,86.4,76.3,60,33,34,48,60,61,51.8,55,78,81.7,78,65.3,45.7,21,17.5,21,40.8,53,58.4,54.3,40.8,27.35];
const dBars = [0,2,4,6,8,10,12,13,15,17,20,22,24,27,29,33,35,37,39,41,45,47,49,51,54,57,59,63,68,69,74,77,79,84,86,90,93,98,100,103,105,107,109,112,115,118,121,124,128,130,133,137,142,144,147,150,152,155,158,160,162,167,168,171,175,178,182,185,188,192,193,196,199,203,205,209,211,213,215,219,221,226,229,234,235,238,242,245,249,254,256,259,262,267,272,276,278,281,285,287,288,292,296,298,300,304,307,309,313,316,319,323,327,330,333,336,341,345,352,355,358,360,363,368,370,375,378,380,383,386,391,396,400,402,405,407,409,411,414,416];
const dVals = [74.6,60.4,65,47.7,20.7,47.7,83.2,67,50,58.7,51.3,63.6,78.3,81.5,73.4,35.4,60.4,37.9,23,42.8,80,64.8,55,55,39,28,41.5,22,61,51.3,74.6,35.4,19.5,52.6,58.7,15.8,55,78.3,72.2,44,67.3,88,62.4,11,34,31.7,69.7,80,75.8,64.8,31.7,26.8,67.3,57.5,79.5,85.6,87.4,78.3,71,44,44.7,88,69.7,24.4,57.5,42.8,89.8,66,34,72,84.4,70,45.7,8.5,25.6,72,45.2,15.8,15.8,79.5,91.8,62.4,41.5,64.8,62.4,72,17,49,66,85.6,80.7,56,83,19.5,78.3,43,51.3,28,66,72,67,31,70,58.7,40.3,56,19.5,35.4,90.5,62.4,68.5,19.5,55.5,30.5,51.3,41.5,83,39,84.4,78.3,69.7,67,26.8,61,44,53,67.8,88.6,81,48,81,33.5,56.7,55.5,79.5,63,22.4,33.5,55.5,33.96];
const stochTicks = [96, 80, 20, 4];

const plotMinX = -0.625, plotMaxX = 464.75;
const fontFamily = "'Liberation Sans',sans-serif";
const gridColor = '#b8b8c8';
const bgColor = '#e6e6fa';

Chart.defaults.font.family = fontFamily;
Chart.defaults.font.size = 9.5;
Chart.defaults.color = '#111';
Chart.defaults.animation = false;
Chart.defaults.responsive = false;
Chart.defaults.devicePixelRatio = 1;
Chart.defaults.events = [];

const candleColor = i => opens[i] === closes[i] ? '#000' : (closes[i] > opens[i] ? '#ff0000' : '#008000');

function gridTicks(axis) {
  const t = [];
  for (let v = -1; v < plotMaxX; v += 8) t.push({ value: v });
  axis.ticks = t;
}
const labelFor = v => timeLabels[(v + 1) / 16] || '';

function lineOf(bars, vals, color, order, extra) {
  return Object.assign({
    type: 'line',
    data: bars.map((b, i) => ({ x: b, y: vals[i] })),
    borderColor: color,
    borderWidth: 1,
    pointRadius: 0,
    order: order
  }, extra);
}

const maSets = [short1, short2, short3, short4, short5, short6].map(v =>
  lineOf(maBars, v, '#0000e0', 7, { cubicInterpolationMode: 'monotone' }));
const longSets = [long1, long2, long3, long4, long5, long6].map(v =>
  lineOf(maBars, v, '#00008b', 7, { cubicInterpolationMode: 'monotone' }));
const levelSets = levels.map(p => lineOf([plotMinX, plotMaxX], [p, p], '#e01818', 2));

new Chart(document.getElementById('main'), {
  type: 'bar',
  data: {
    datasets: [
      {
        data: lows.map((l, i) => ({ x: i, y: [l, highs[i]] })),
        backgroundColor: lows.map((l, i) => candleColor(i)),
        barThickness: 1, grouped: false, order: 6
      },
      {
        data: opens.map((o, i) => ({ x: i, y: [o, closes[i]] })),
        backgroundColor: opens.map((o, i) => closes[i] >= o ? bgColor : '#008000'),
        borderColor: opens.map((o, i) => candleColor(i)),
        borderWidth: 1, borderSkipped: false,
        barThickness: 3, grouped: false, order: 5
      },
      ...maSets,
      ...longSets,
      ...levelSets,
      lineOf([plotMinX, plotMaxX], [lastPrice, lastPrice], '#c0c0cc', 8),
      lineOf(trendA.bars, trendA.prices, '#ee1c25', 1, { borderWidth: 3 }),
      lineOf(trendB.bars, trendB.prices, '#ee1c25', 1, { borderWidth: 3 })
    ]
  },
  options: {
    layout: { padding: 0 },
    plugins: { legend: { display: false }, tooltip: { enabled: false } },
    scales: {
      x: {
        type: 'linear', min: plotMinX, max: plotMaxX, offset: false,
        afterBuildTicks: gridTicks,
        afterFit: s => { s.paddingLeft = 0; s.paddingRight = 0; s.height = 0; },
        ticks: { display: false },
        border: { display: false, dash: [3, 3] },
        grid: { color: gridColor, drawTicks: false, offset: false }
      },
      y: {
        position: 'right',
        min: 1691.93, max: 1768.33,
        afterBuildTicks: s => { s.ticks = priceTicks.map(v => ({ value: v })); },
        afterFit: s => { s.width = 45; s.paddingTop = 0; s.paddingBottom = 0; },
        ticks: {
          autoSkip: false, padding: 2,
          callback: v => v.toFixed(2),
          color: c => (levels.includes(c.tick.value) || c.tick.value === lastPrice) ? '#fff' : '#111',
          showLabelBackdrop: c => levels.includes(c.tick.value) || c.tick.value === lastPrice,
          backdropColor: c => c.tick.value === lastPrice ? '#000' : '#ff0000',
          backdropPadding: { top: -1, bottom: -1, left: 4, right: 6 }
        },
        border: { display: true, color: '#000', dash: [3, 3] },
        grid: { color: gridColor, tickLength: 4, tickColor: '#000' }
      }
    }
  }
});

new Chart(document.getElementById('stoch'), {
  type: 'line',
  data: {
    datasets: [
      lineOf(kBars, kVals, '#20b2aa', 2),
      lineOf(dBars, dVals, '#ff0000', 1, { borderDash: [3, 3] })
    ]
  },
  options: {
    layout: { padding: 0 },
    plugins: { legend: { display: false }, tooltip: { enabled: false } },
    scales: {
      x: {
        type: 'linear', min: plotMinX, max: plotMaxX,
        afterBuildTicks: gridTicks,
        afterFit: s => { s.paddingLeft = 0; s.paddingRight = 0; s.height = 21; },
        ticks: {
          autoSkip: false, maxRotation: 0, minRotation: 0, align: 'start', padding: 1,
          callback: labelFor
        },
        border: { display: true, color: '#000', dash: [3, 3] },
        grid: {
          color: gridColor, tickLength: 4,
          tickColor: c => labelFor(c.tick.value) ? '#000' : 'rgba(0,0,0,0)',
          tickBorderDash: []
        }
      },
      y: {
        position: 'right',
        min: -0.4, max: 100.4,
        afterBuildTicks: s => { s.ticks = stochTicks.map(v => ({ value: v })); },
        afterFit: s => { s.width = 45; s.paddingTop = 0; s.paddingBottom = 0; },
        ticks: {
          autoSkip: false, padding: 2,
          callback: v => v === 96 ? '100' : (v === 4 ? '0' : String(v))
        },
        border: { display: true, color: '#000', dash: [3, 3] },
        grid: {
          tickLength: 4,
          tickColor: c => (c.tick.value === 80 || c.tick.value === 20) ? '#000' : 'rgba(0,0,0,0)',
          color: c => (c.tick.value === 80 || c.tick.value === 20) ? gridColor : 'rgba(0,0,0,0)'
        }
      }
    }
  }
});
</script>
</body>
</html>
